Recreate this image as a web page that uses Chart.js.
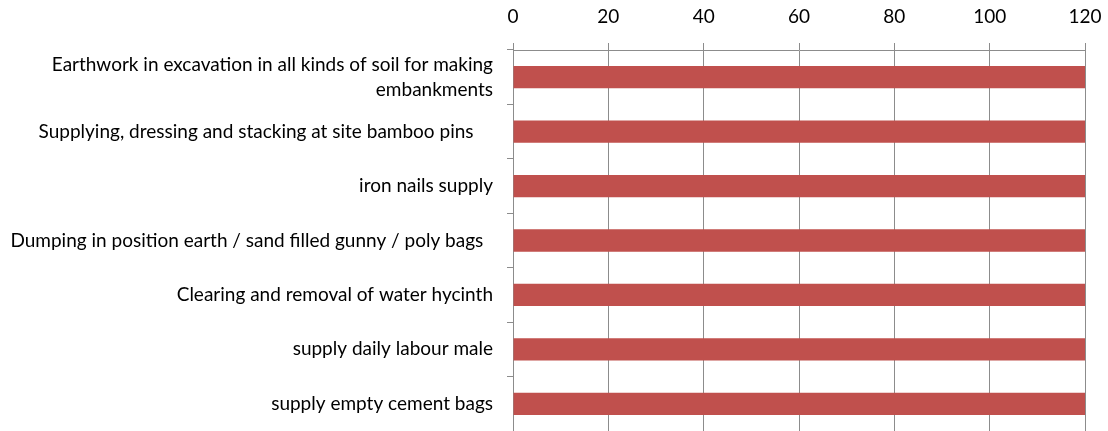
<!DOCTYPE html>
<html>
<head>
<meta charset="utf-8">
<script src="https://cdn.jsdelivr.net/npm/chart.js@4"></script>
<style>
    html, body { margin: 0; padding: 0; background: #ffffff; }
    #wrap { width: 1108px; height: 431px; }
</style>
</head>
<body>
<div id="wrap"><canvas id="chart-works"></canvas></div>
<script>
const categories = [
    ['Earthwork in excavation in all kinds of soil for making', 'embankments'],
    'Supplying, dressing and stacking at site bamboo pins    ',
    'iron nails supply',
    'Dumping in position earth / sand filled gunny / poly bags  ',
    'Clearing and removal of water hycinth',
    'supply daily labour male',
    'supply empty cement bags'
];
const values = [120, 120, 120, 120, 120, 120, 120];
const xTicks = [0, 20, 40, 60, 80, 100, 120];

const ctx = document.getElementById('chart-works').getContext('2d');

new Chart(ctx, {
    type: 'bar',
    data: {
        labels: categories,
        datasets: [{
            data: values,
            backgroundColor: '#c0504d',
            borderWidth: 0,
            barPercentage: 0.41,
            categoryPercentage: 1
        }]
    },
    options: {
        indexAxis: 'y',
        responsive: true,
        maintainAspectRatio: false,
        animation: false,
        layout: { padding: { left: 0, right: 23, top: 0, bottom: -2 } },
        plugins: {
            legend: { display: false },
            tooltip: { enabled: false }
        },
        scales: {
            x: {
                position: 'top',
                min: xTicks[0],
                max: xTicks[xTicks.length - 1],
                afterBuildTicks: function (scale) {
                    scale.ticks = xTicks.map(v => ({ value: v }));
                },
                afterFit: function (scale) {
                    scale.height = 50;
                    scale.paddingLeft = 0;
                    scale.paddingRight = 0;
                },
                grid: {
                    color: '#8c8c8c',
                    lineWidth: 1,
                    tickLength: 7,
                    drawTicks: true
                },
                border: { display: true, color: '#8c8c8c' },
                ticks: {
                    color: '#000000',
                    padding: 15,
                    font: { family: 'Lato', size: 19 }
                }
            },
            y: {
                afterFit: function (scale) {
                    scale.width = 513;
                    // labels sit inside their bands, no extra room needed
                    scale.paddingTop = 0;
                    scale.paddingBottom = 0;
                },
                grid: {
                    offset: true,
                    drawOnChartArea: false,
                    color: '#8c8c8c',
                    tickLength: 6
                },
                border: { display: true, color: '#8c8c8c' },
                ticks: {
                    color: '#000000',
                    padding: 14,
                    font: { family: 'Lato', size: 19, lineHeight: 1.3 }
                }
            }
        }
    }
});
</script>
</body>
</html>
